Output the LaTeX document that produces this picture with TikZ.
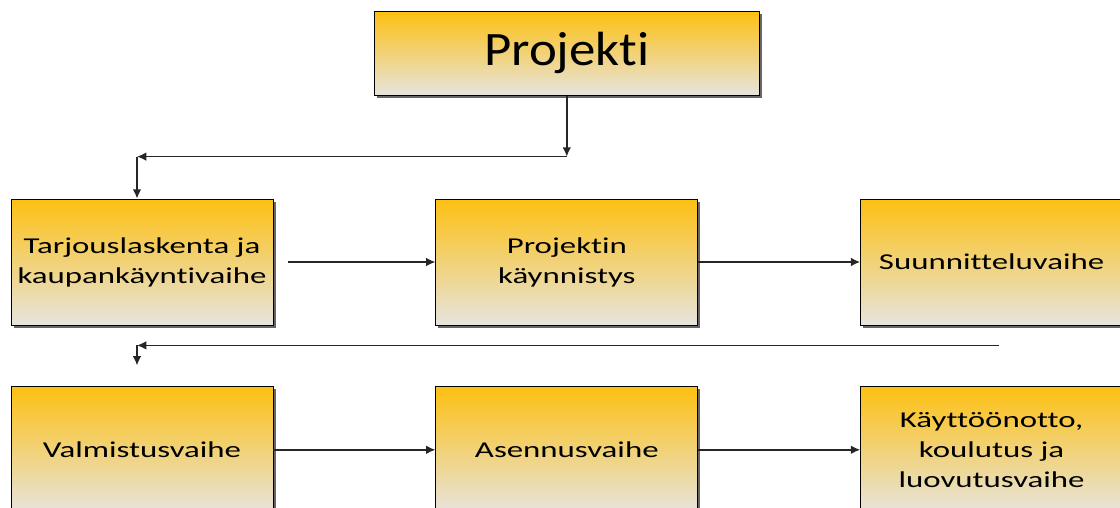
\documentclass[tikz,border=0pt]{standalone}
\usepackage{fontspec}
\setmainfont{Carlito}[Ligatures=NoCommon]
\newfontfamily\boxfont{Carlito}[Ligatures=NoCommon, FakeStretch=1.45]
\newfontfamily\titlefont{Carlito}[Ligatures=NoCommon, FakeStretch=1.1]
\usepackage{tikz}
\usetikzlibrary{arrows.meta,positioning,calc,shadows}
\definecolor{gold}{RGB}{253,192,18}
\definecolor{pale}{RGB}{230,228,222}

\begin{document}
\begin{tikzpicture}[
  x=0.75pt, y=0.75pt,
  phase/.style={rectangle, draw=black, line width=0.6pt, minimum width=196.5pt, minimum height=94.5pt,
    align=center, top color=gold, bottom color=pale,
    drop shadow={shadow xshift=2pt, shadow yshift=-2pt, fill=black!60, opacity=1},
    font=\boxfont\fontsize{17}{22.5}\selectfont},
  arrow/.style={-{Latex[length=7pt,width=6.5pt]}, line width=1.1pt, draw=black!85},
]
\useasboundingbox (0,0) rectangle (1120,-507);

\node[phase] (offer) at (142,-262) {Tarjouslaskenta ja\\kaupankäyntivaihe};
\node[phase, right=121.5pt of offer] (start) {Projektin\\käynnistys};
\node[phase, right=121.5pt of start] (design) {Suunnitteluvaihe};
\node[phase, below=45.75pt of offer] (make) {Valmistusvaihe};
\node[phase, below=45.75pt of start] (install) {Asennusvaihe};
\node[phase, below=45.75pt of design] (handover) {Käyttöönotto,\\koulutus ja\\luovutusvaihe};
\node[phase, above=77.25pt of start, minimum width=288.75pt, minimum height=63pt,
  font=\titlefont\fontsize{36}{40}\selectfont] (project) {Projekti};

% turning points
\coordinate[below=45.75pt of project] (j1);
\coordinate (j2) at ($(j1 -| offer.north)+(-5,0)$);
\coordinate (j3) at ($(design.south)+(7,-20)$);
\coordinate (j4) at (j3 -| j2);
\coordinate (j5) at ($(j4)+(0,-20)$);

\draw[arrow] (project) -- (j1);
\draw[arrow] (j1) -- (j2);
\draw[arrow] (j2) -- (j2 |- offer.north);

\draw[arrow] ($(offer.east)+(15,0)$) -- (start);
\draw[arrow] (start) -- (design);

\draw[arrow] (j3) -- (j4);
\draw[arrow] (j4) -- (j5);

\draw[arrow] (make) -- (install);
\draw[arrow] (install) -- (handover);

\end{tikzpicture}
\end{document}
